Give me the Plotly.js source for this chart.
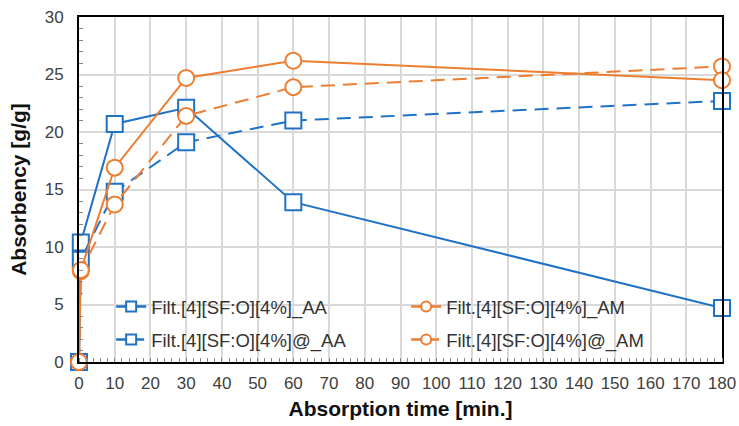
<!DOCTYPE html>
<html><head><meta charset="utf-8">
<script src="https://cdn.plot.ly/plotly-3.0.1.min.js"></script>
<style>html,body{margin:0;padding:0;background:#fff}#c{width:739px;height:426px}</style>
</head><body><div id="c"></div>
<script>
const time = [0, 0.5, 10, 30, 60, 180];
const aaSolid = [0, 10.4, 20.7, 22.1, 13.9, 4.7];
const amSolid = [0, 8.0, 16.9, 24.7, 26.2, 24.5];
const aaDash  = [0, 8.9, 14.8, 19.1, 21.0, 22.7];
const amDash  = [0, 7.9, 13.7, 21.4, 23.9, 25.7];
const names = ['Filt.[4][SF:O][4%]_AA', 'Filt.[4][SF:O][4%]_AM', 'Filt.[4][SF:O][4%]@_AA', 'Filt.[4][SF:O][4%]@_AM'];
const xTicks = [0,10,20,30,40,50,60,70,80,90,100,110,120,130,140,150,160,170,180];

const blue = '#1f72c4', orange = '#ed7d31';
const DASH = '14px,8px';
function tr(y, color, sym, dash) {
  return {x: time, y: y, type: 'scatter', mode: 'lines+markers', cliponaxis: false, showlegend: false,
    line: {color: color, width: 2, dash: dash},
    marker: {symbol: sym, size: 16, color: '#fff', line: {color: color, width: 2}}};
}
function lg(name, color, sym, dash, legend) {
  return {x: [null], y: [null], name: name, type: 'scatter', mode: 'lines+markers', legend: legend,
    line: {color: color, width: 2.5, dash: dash},
    marker: {symbol: sym, size: 10, color: '#fff', line: {color: color, width: 2}}};
}
const data = [
  tr(aaSolid, blue, 'square', 'solid'),
  tr(aaDash, blue, 'square', DASH),
  tr(amDash, orange, 'circle', DASH),
  tr(amSolid, orange, 'circle', 'solid'),
  lg(names[0], blue, 'square', 'solid', 'legend'),
  lg(names[1], orange, 'circle', 'solid', 'legend'),
  lg(names[2], blue, 'square', '10px,8px', 'legend2'),
  lg(names[3], orange, 'circle', '10px,8px', 'legend2')
];

const legBase = {orientation: 'h', xanchor: 'left', yanchor: 'middle',
  bgcolor: 'rgba(0,0,0,0)', entrywidth: 250, entrywidthmode: 'pixels',
  font: {size: 18.5, color: '#333'}};
const layout = {
  width: 739, height: 426,
  margin: {l: 79, r: 17, t: 17, b: 64},
  paper_bgcolor: '#fff', plot_bgcolor: '#fff',
  font: {family: 'Liberation Sans, Arial, sans-serif', size: 17, color: '#404040'},
  showlegend: true,
  legend: Object.assign({}, legBase, {x: 0.05, y: (362 - 307) / 345}),
  legend2: Object.assign({}, legBase, {x: 0.05, y: (362 - 340) / 345}),
  xaxis: {range: [0, 180], tickvals: xTicks, ticktext: xTicks.map(String),
    showgrid: true, gridcolor: '#d9d9d9', gridwidth: 2,
    showline: true, linecolor: '#000', linewidth: 2, mirror: true,
    ticks: '', zeroline: false, ticklabelstandoff: 5,
    tickfont: {size: 17, color: '#404040'},
    minor: {ticks: 'inside', ticklen: 4, dtick: 2, tickcolor: '#888', showgrid: false},
    title: {text: '<b>Absorption time [min.]</b>', font: {size: 21, color: '#111'}, standoff: 9}},
  yaxis: {range: [0, 30], dtick: 5,
    showgrid: true, gridcolor: '#d9d9d9', gridwidth: 2,
    showline: true, linecolor: '#000', linewidth: 2, mirror: true,
    ticks: '', zeroline: false, ticklabelstandoff: 10,
    tickfont: {size: 17, color: '#404040'},
    minor: {ticks: 'inside', ticklen: 4, dtick: 1, tickcolor: '#888', showgrid: false},
    title: {text: '<b>Absorbency [g/g]</b>', font: {size: 21, color: '#111'}, standoff: 12}}
};
Plotly.newPlot('c', data, layout, {displayModeBar: false, staticPlot: true});
</script></body></html>
